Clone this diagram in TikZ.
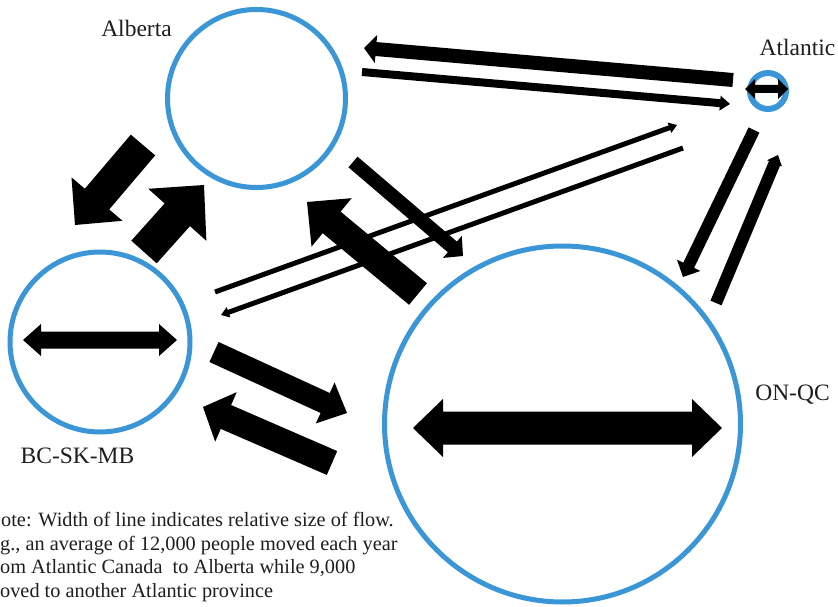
\documentclass[tikz,border=0pt]{standalone}
\usepackage{fontspec}
\setmainfont{Liberation Serif}
\usetikzlibrary{calc}
\definecolor{ringblue}{RGB}{58,150,214}
\definecolor{inkblack}{RGB}{0,0,0}
\definecolor{textgrey}{RGB}{30,30,30}
% one-headed block arrow: prefix, tail, tip, half shaft, half head, head length
\newcommand\flowarrow[6]{%
  \coordinate (#1h) at ($(#3)!#6!(#2)$);
  \fill[arrowfill] ($(#2)!#4!90:(#3)$) -- ($(#1h)!#4!90:(#3)$) -- ($(#1h)!#5!90:(#3)$) -- (#3)
    -- ($(#1h)!#5!-90:(#3)$) -- ($(#1h)!#4!-90:(#3)$) -- ($(#2)!#4!-90:(#3)$) -- cycle;
}
% two-headed block arrow
\newcommand\twowayarrow[6]{%
  \coordinate (#1p) at ($(#2)!#6!(#3)$);
  \coordinate (#1q) at ($(#3)!#6!(#2)$);
  \fill[arrowfill] (#2) -- ($(#1p)!#5!90:(#3)$) -- ($(#1p)!#4!90:(#3)$) -- ($(#1q)!#4!90:(#3)$)
    -- ($(#1q)!#5!90:(#3)$) -- (#3) -- ($(#1q)!#5!-90:(#3)$) -- ($(#1q)!#4!-90:(#3)$)
    -- ($(#1p)!#4!-90:(#3)$) -- ($(#1p)!#5!-90:(#3)$) -- cycle;
}
\begin{document}
\begin{tikzpicture}[x=1pt,y=-1pt,
  region/.style={circle,draw=ringblue,line width=5pt,inner sep=0pt},
  arrowfill/.style={fill=inkblack},
  label/.style={inner sep=0pt,anchor=base,text=textgrey,font=\fontsize{23.5}{27}\selectfont},
  notetext/.style={inner sep=0pt,anchor=base west,text=textgrey,font=\fontsize{20.3}{24}\selectfont}]
\useasboundingbox (0,0) rectangle (838,607);
\fill[white] (0,0) rectangle (838,607);

% regions
\node[region,minimum size=178pt] (alberta) at (256.5,98.5) {};
\node[region,minimum size=180pt] (bc) at (100,342) {};
\node[region,minimum size=356pt] (onqc) at (562.5,424) {};
\node[region,minimum size=36pt,line width=6pt] (atlantic) at (768,91) {};

% labels
\node[label] (lalberta) at (136.5,37) {Alberta};
\node[label] (latlantic) at (797.5,56) {Atlantic};
\node[label] (lbc) at (77.5,463) {BC-SK-MB};
\node[label] (lonqc) at (792.5,400) {ON-QC};

% note
\node[notetext] (note1) at (1,526) {ote: Width of line indicates relative size of flow.};
\node[notetext] (note2) at (0,550) {g., an average of 12,000 people moved each year};
\node[notetext] (note3) at (0,573) {om Atlantic Canada\ \ to Alberta while 9,000};
\node[notetext] (note4) at (0,597) {oved to another Atlantic province};

% arrow end points
\coordinate (abS) at (143,145); \coordinate (abE) at (75,225);
\coordinate (baS) at (144,252); \coordinate (baE) at (204,185);
\coordinate (tlS) at (733,80);  \coordinate (tlE) at (364,48);
\coordinate (ltS) at (362,72);  \coordinate (ltE) at (730,104);
\coordinate (btS) at (215,292); \coordinate (btE) at (677,125);
\coordinate (tbS) at (683,148); \coordinate (tbE) at (221,315);
\coordinate (aoS) at (353,162); \coordinate (aoE) at (463,256);
\coordinate (oaS) at (418,294); \coordinate (oaE) at (307,202);
\coordinate (boS) at (214,352); \coordinate (boE) at (347,413);
\coordinate (obS) at (332,463); \coordinate (obE) at (203,407);
\coordinate (toS) at (754,130); \coordinate (toE) at (683,277);
\coordinate (otS) at (716,303); \coordinate (otE) at (778,155);
\coordinate (bbL) at (23,340);  \coordinate (bbR) at (177,340);
\coordinate (ooL) at (413,428); \coordinate (ooR) at (722,428);
\coordinate (ttL) at (745,89);  \coordinate (ttR) at (788,89);

% flows
\flowarrow{ab}{abS}{abE}{16pt}{33.5pt}{34pt}
\flowarrow{ba}{baS}{baE}{17pt}{39pt}{40pt}
\flowarrow{tl}{tlS}{tlE}{7pt}{14pt}{12pt}
\flowarrow{lt}{ltS}{ltE}{4pt}{7.5pt}{10pt}
\flowarrow{bt}{btS}{btE}{2.5pt}{5.5pt}{8pt}
\flowarrow{tb}{tbS}{tbE}{2.5pt}{5.5pt}{8pt}
\flowarrow{ao}{aoS}{aoE}{7pt}{14.5pt}{14pt}
\flowarrow{oa}{oaS}{oaE}{14pt}{31.5pt}{32pt}
\flowarrow{bo}{boS}{boE}{11pt}{22.5pt}{24pt}
\flowarrow{ob}{obS}{obE}{13pt}{27pt}{25pt}
\flowarrow{to}{toS}{toE}{6pt}{13pt}{13pt}
\flowarrow{ot}{otS}{otE}{6pt}{8pt}{9pt}

% within-region flows
\twowayarrow{bb}{bbL}{bbR}{8.5pt}{16pt}{18pt}
\twowayarrow{oo}{ooL}{ooR}{16.5pt}{29pt}{30pt}
\twowayarrow{tt}{ttL}{ttR}{4pt}{10pt}{10pt}
\end{tikzpicture}
\end{document}
